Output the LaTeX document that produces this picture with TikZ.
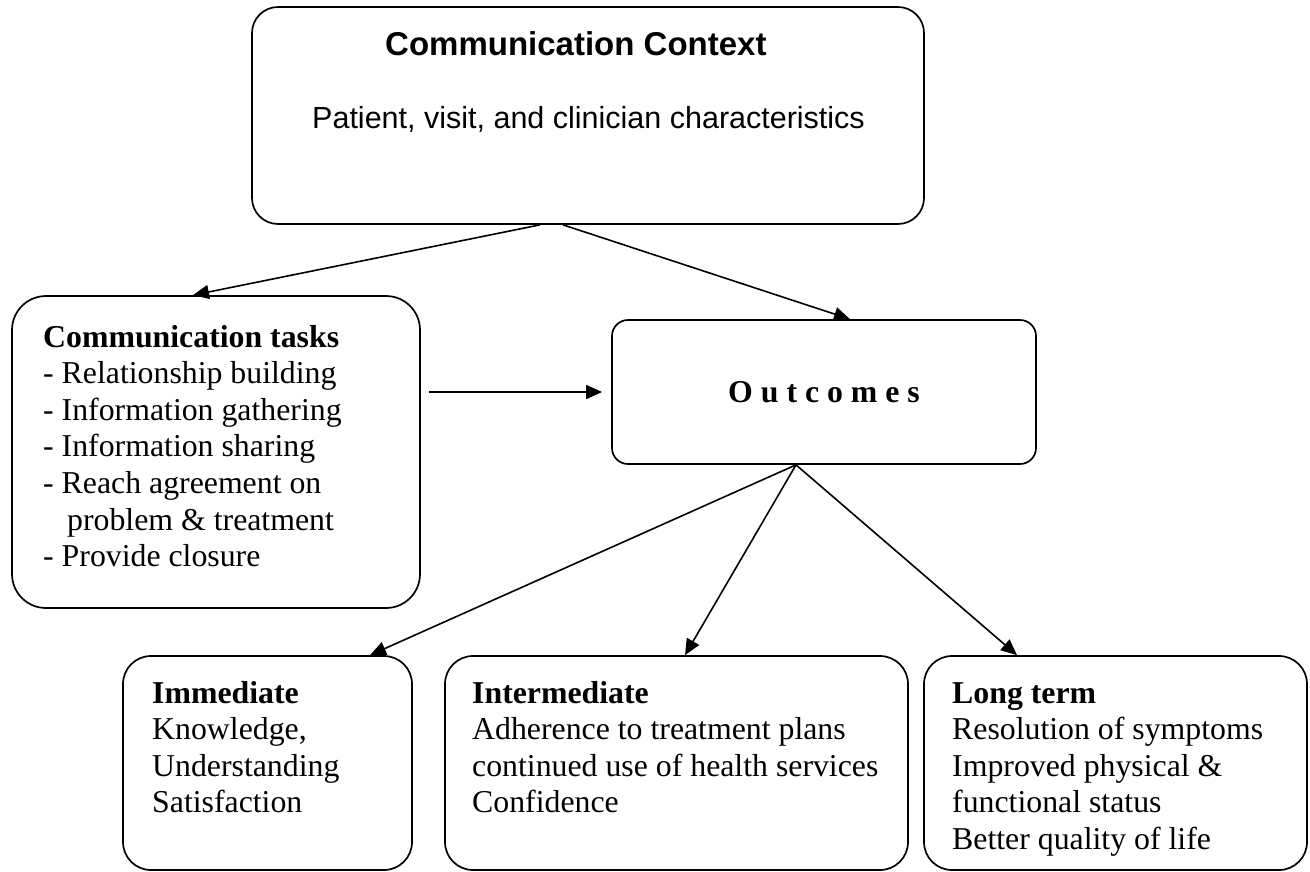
\documentclass[tikz,border=0pt]{standalone}
\usepackage{fontspec}
\setmainfont{Liberation Serif}
\setsansfont{Liberation Sans}
\usetikzlibrary{arrows.meta,calc}
\begin{document}
\begin{tikzpicture}[x=1pt,y=-1pt,
  box/.style={draw,line width=1.7pt,inner sep=0pt},
  conn/.style={line width=1.6pt,-{Triangle[length=16pt,width=14pt]}},
  txt/.style={anchor=base west,inner sep=0pt,font=\fontsize{31.8}{36.6}\selectfont}]
\useasboundingbox[fill=white] (0,0) rectangle (1310,871);
% boxes
\node[box,rounded corners=26pt,minimum width=672pt,minimum height=217pt] (ctx) at (588,115.5) {};
\node[box,rounded corners=34pt,minimum width=408pt,minimum height=312pt] (tasks) at (216,452) {};
\node[box,rounded corners=16pt,minimum width=424pt,minimum height=144pt] (outc) at (824,392) {};
\node[box,rounded corners=28pt,minimum width=289pt,minimum height=214pt] (imm) at (267.5,763) {};
\node[box,rounded corners=28pt,minimum width=463pt,minimum height=214pt] (inter) at (676.5,763) {};
\node[box,rounded corners=28pt,minimum width=383pt,minimum height=214pt] (long) at (1115.5,763) {};
% texts
\node[txt,font=\sffamily\bfseries\fontsize{33}{38}\selectfont] (ctxtitle) at (385,55) {Communication Context};
\node[txt,font=\sffamily\fontsize{30.5}{35}\selectfont] (ctxsub) at (312,128) {Patient, visit, and clinician characteristics};
\node[txt] (taskstxt) at (43,347) {\begin{tabular}[t]{@{}l@{}}\textbf{Communication tasks}\\
- Relationship building\\
- Information gathering\\
- Information sharing\\
- Reach agreement on\\
\hspace*{24pt}problem \& treatment\\
- Provide closure\end{tabular}};
\node[anchor=base,inner sep=0pt,font=\bfseries\fontsize{31.8}{36.6}\selectfont] (outctxt) at (824,402) {O u t c o m e s};
\node[txt] (immtxt) at (152,703) {\begin{tabular}[t]{@{}l@{}}\textbf{Immediate}\\
Knowledge,\\
Understanding\\
Satisfaction\end{tabular}};
\node[txt] (intertxt) at (472,703) {\begin{tabular}[t]{@{}l@{}}\textbf{Intermediate}\\
Adherence to treatment plans\\
continued use of health services\\
Confidence\end{tabular}};
\node[txt] (longtxt) at (952,703) {\begin{tabular}[t]{@{}l@{}}\textbf{Long term}\\
Resolution of symptoms\\
Improved physical \&\\
functional status\\
Better quality of life\end{tabular}};
% connectors
\draw[conn] ($(ctx.south)+(-48,0)$) -- ($(tasks.north)+(-23,0)$);
\draw[conn] ($(ctx.south)+(-25,0)$) -- ($(outc.north)+(26,0)$);
\draw[conn] ($(tasks.east |- outc.west)+(8,0)$) -- ($(outc.west)+(-9,0)$);
\draw[conn] ($(outc.south)+(-28,0)$) -- ($(imm.north)+(102.5,0)$);
\draw[conn] ($(outc.south)+(-28,0)$) -- ($(inter.north)+(8.5,0)$);
\draw[conn] ($(outc.south)+(-28,0)$) -- ($(long.north)+(-98.5,0)$);
\end{tikzpicture}
\end{document}
